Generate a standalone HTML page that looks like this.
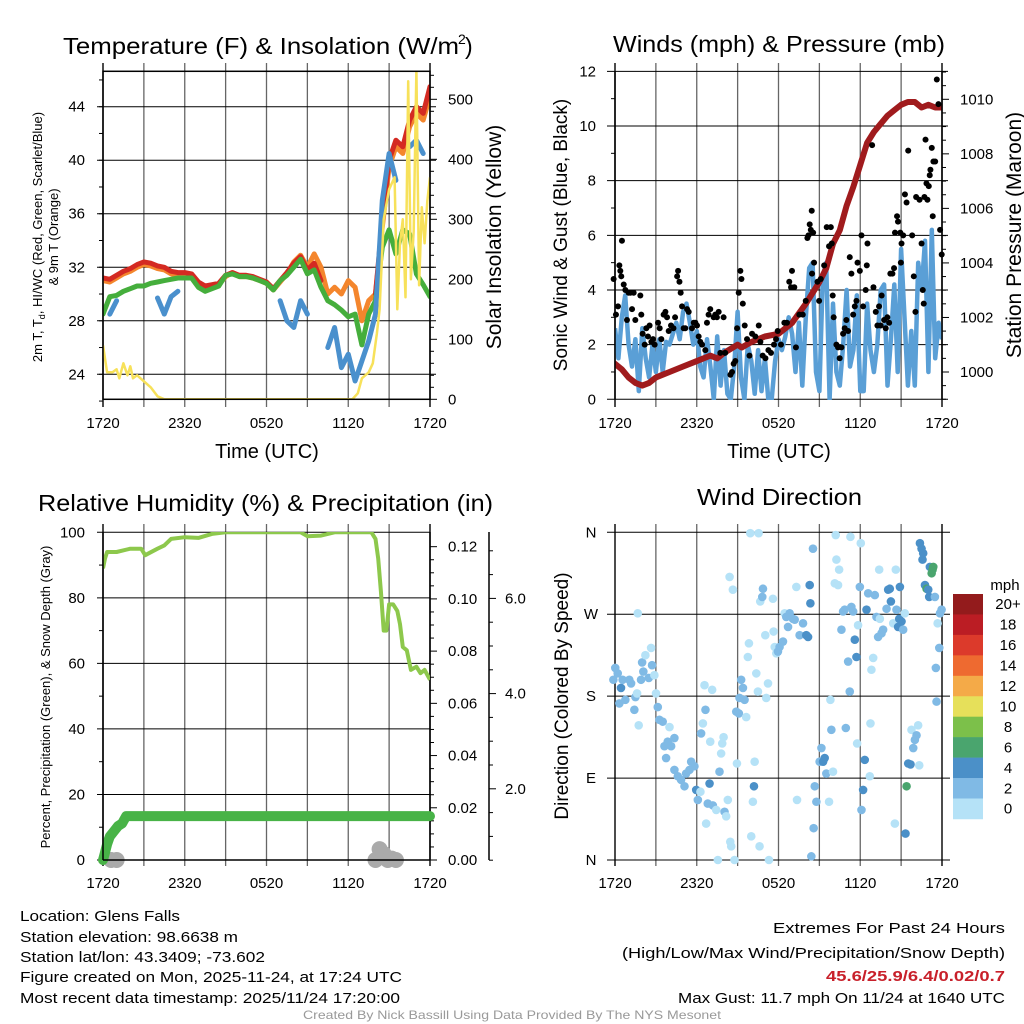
<!DOCTYPE html>
<html><head><meta charset="utf-8">
<style>
html,body{margin:0;padding:0;background:#fff;}
svg{display:block;font-family:"Liberation Sans",sans-serif;}
</style></head>
<body>
<svg id="fig" width="1024" height="1024" viewBox="0 0 1024 1024" xmlns="http://www.w3.org/2000/svg">
<rect x="0" y="0" width="1024" height="1024" fill="#fff"/>
<defs>
<clipPath id="c1"><rect x="103" y="71" width="327" height="329"/></clipPath>
<clipPath id="c2"><rect x="615" y="71" width="327" height="329"/></clipPath>
<clipPath id="c3"><rect x="103" y="532" width="327" height="328"/></clipPath>
</defs>
<g id="p1"></g>
<g id="p2"></g>
<g id="p3"></g>
<g id="p4"></g>

<text x="63" y="54" font-size="23" textLength="396" lengthAdjust="spacingAndGlyphs">Temperature (F) &amp; Insolation (W/m</text>
<text x="458" y="44" font-size="14">2</text>
<text x="465" y="54" font-size="23">)</text>
<text x="613" y="52" font-size="23" textLength="332" lengthAdjust="spacingAndGlyphs">Winds (mph) &amp; Pressure (mb)</text>
<text x="38" y="511" font-size="23" textLength="455" lengthAdjust="spacingAndGlyphs">Relative Humidity (%) &amp; Precipitation (in)</text>
<text x="697" y="505" font-size="23" textLength="165" lengthAdjust="spacingAndGlyphs">Wind Direction</text>

<g font-size="15">
<text x="20" y="921" textLength="160" lengthAdjust="spacingAndGlyphs">Location: Glens Falls</text>
<text x="20" y="942" textLength="218" lengthAdjust="spacingAndGlyphs">Station elevation: 98.6638 m</text>
<text x="20" y="962" textLength="245" lengthAdjust="spacingAndGlyphs">Station lat/lon: 43.3409; -73.602</text>
<text x="20" y="982" textLength="382" lengthAdjust="spacingAndGlyphs">Figure created on Mon, 2025-11-24, at 17:24 UTC</text>
<text x="20" y="1003" textLength="380" lengthAdjust="spacingAndGlyphs">Most recent data timestamp: 2025/11/24 17:20:00</text>
</g>
<g font-size="15" text-anchor="end">
<text x="1005" y="933" textLength="232" lengthAdjust="spacingAndGlyphs">Extremes For Past 24 Hours</text>
<text x="1005" y="958" textLength="383" lengthAdjust="spacingAndGlyphs">(High/Low/Max Wind/Precipitation/Snow Depth)</text>
<text x="1005" y="981" fill="#c8202a" font-weight="bold" textLength="179" lengthAdjust="spacingAndGlyphs">45.6/25.9/6.4/0.02/0.7</text>
<text x="1005" y="1003" textLength="327" lengthAdjust="spacingAndGlyphs">Max Gust: 11.7 mph On 11/24 at 1640 UTC</text>
</g>
<text x="512" y="1019" font-size="12" fill="#999" text-anchor="middle" textLength="418" lengthAdjust="spacingAndGlyphs">Created By Nick Bassill Using Data Provided By The NYS Mesonet</text>
</svg>
<script>
// ---------- DATA ----------
const xTickLabels = ["1720","2320","0520","1120","1720"];
const tempRed = [31.2,31.1,31.4,31.7,31.9,32.2,32.4,32.3,32.1,32.0,31.7,31.6,31.6,31.5,30.9,30.6,30.7,30.8,31.4,31.6,31.4,31.4,31.3,31.1,30.9,30.4,31.0,31.6,32.3,32.8,31.8,32.3,31.0,null,null,null,null,null,null,null,30.0,35.5,40.0,41.5,41.0,43.0,44.0,43.5,45.5];
const tempOrange = [31.0,30.9,31.2,31.5,31.7,32.0,32.2,32.1,31.9,31.8,31.5,31.4,31.5,31.4,30.8,30.5,30.6,30.7,31.3,31.6,31.3,31.3,31.2,31.0,30.8,30.3,30.9,31.5,32.4,32.9,32.0,33.0,32.0,30.0,30.5,30.0,31.0,30.5,28.0,29.5,30.0,35.0,39.5,41.0,40.5,42.5,43.5,43.0,44.8];
const tempGreen = [28.5,29.8,29.9,30.2,30.4,30.6,30.6,30.8,30.9,31.0,31.1,31.2,31.2,31.2,30.5,30.2,30.4,30.6,31.4,31.5,31.3,31.3,31.2,31.0,30.8,30.3,31.0,31.4,32.0,32.6,31.5,31.8,30.5,29.5,29.2,28.8,28.3,28.5,26.2,28.5,29.5,33.5,34.8,33.0,34.8,34.5,31.5,30.7,29.8];
const tempBlue = [null,28.5,29.5,null,null,null,null,null,29.7,28.5,29.8,30.2,null,null,29.3,null,null,null,28.6,null,null,null,null,null,null,null,29.5,28.0,27.5,29.5,28.5,null,null,26.0,27.5,24.5,25.5,23.5,25.0,26.5,28.5,37.0,40.5,38.5,null,41.0,41.5,40.5,null];
const solarHours = [0,0.3,0.7,1,1.2,1.5,1.8,2,2.2,2.5,3,3.5,4,4.5,18.3,18.7,19,19.5,19.8,20.1,20.3,20.6,21,21.4,21.6,21.8,22,22.2,22.4,22.6,22.8,23,23.2,23.4,23.6,23.8,24];
const solarValues = [90,45,45,50,35,60,40,55,35,40,30,20,5,0,0,10,35,45,60,110,150,300,350,370,150,260,300,170,530,200,280,550,190,320,260,330,370];
const windSpeed = [2.6,1.5,3.0,3.8,2.0,1.2,2.2,0.3,2.6,1.5,0.8,2.0,1.0,2.2,1.0,2.1,2.0,2.4,2.8,2.2,3.2,3.5,2.8,2.0,2.5,1.2,0.8,2.2,1.2,0.0,2.3,0.5,1.8,0.2,0.0,1.2,3.2,0.8,0.0,2.0,1.4,0.2,1.8,0.3,1.5,0.0,0.0,1.4,2.2,1.8,2.3,3.0,2.4,1.0,2.8,0.5,3.0,4.8,5.0,1.0,0.3,4.5,5.0,0.0,3.5,1.0,0.5,2.0,4.0,1.2,1.8,3.8,0.3,0.3,3.5,1.8,1.0,2.0,4.0,4.2,0.5,2.2,4.2,1.0,5.5,3.0,0.5,2.5,0.5,5.0,4.0,5.8,1.0,6.2,1.5,2.8,2.2];
const gustHours = [-0.1,0.07,0.22,0.32,0.39,0.46,0.51,0.64,0.76,0.88,1.0,1.13,1.25,1.37,1.49,1.86,1.93,2.03,2.18,2.3,2.42,2.54,2.67,2.79,2.91,3.16,3.28,3.4,3.57,3.7,3.82,3.94,4.11,4.29,4.41,4.56,4.63,4.73,4.82,4.92,5.04,5.16,5.29,5.41,5.65,5.78,5.9,6.02,6.14,6.26,6.39,6.63,6.75,6.87,6.99,7.24,7.36,7.48,7.61,7.73,7.97,8.09,8.47,8.59,8.71,8.83,8.96,9.08,9.2,9.28,9.38,9.52,9.69,9.87,10.06,10.3,10.55,10.67,10.84,11.04,11.26,11.45,11.67,11.82,11.94,12.18,12.43,12.62,12.79,12.92,12.99,13.16,13.28,13.53,13.78,14.0,14.12,14.2,14.29,14.37,14.44,14.54,14.61,14.46,14.86,14.98,15.1,15.35,15.54,15.71,15.84,15.91,15.98,16.05,16.25,16.37,16.49,16.62,16.74,16.86,16.98,17.11,17.23,17.35,17.48,17.6,17.72,17.8,17.97,18.09,18.21,18.4,18.48,18.53,18.87,18.97,19.14,19.26,19.38,19.5,19.57,19.75,19.87,19.99,20.12,20.21,20.36,20.48,20.55,20.7,20.77,20.94,20.98,21.03,21.15,21.28,21.4,21.52,21.81,21.93,22.05,22.1,22.35,22.5,22.59,22.66,22.71,22.79,22.86,22.93,23.03,23.1,23.15,23.25,23.32,23.37,23.5,23.62,23.74,23.86,23.98];
const gustValues = [4.4,3.1,3.4,4.9,4.7,4.5,5.8,4.2,4.0,2.9,3.9,3.9,3.3,3.9,2.9,3.8,3.1,2.4,2.0,2.6,2.3,2.7,2.1,2.2,2.0,2.8,2.6,2.2,3.1,3.2,3.0,2.5,2.7,2.6,3.0,4.5,4.7,4.3,3.9,3.4,2.6,2.6,3.3,3.2,2.6,2.8,2.8,2.7,2.3,2.1,2.0,1.8,2.8,3.1,3.3,3.0,3.1,3.0,3.2,1.7,3.0,1.7,0.9,1.0,1.3,1.4,2.6,3.9,4.7,4.4,3.5,2.7,2.2,1.6,2.4,2.3,2.7,2.1,1.6,1.5,1.8,1.7,2.0,2.2,2.5,2.0,2.8,2.8,4.3,4.1,4.7,4.1,1.9,3.1,3.1,3.6,5.9,6.0,6.4,6.2,6.9,6.1,5.0,4.6,4.3,3.6,4.4,4.9,6.3,5.6,6.3,5.7,3.8,3.0,2.0,1.9,1.5,1.9,2.4,2.6,2.9,2.5,5.2,4.6,3.1,3.4,3.6,5.0,4.7,6.0,3.4,4.0,4.9,5.7,9.3,4.1,3.2,2.7,3.4,2.7,3.8,2.9,2.6,3.0,2.8,4.6,4.6,4.8,6.1,6.7,6.5,6.1,5.0,5.7,6.0,7.5,7.2,9.1,6.0,4.5,3.2,7.4,7.3,5.7,4.0,3.5,7.4,9.5,7.9,7.3,7.8,8.2,8.4,9.2,6.7,8.7,8.7,11.7,10.8,6.2,5.3,4.6,4.9,6.1];
const pressHours = [0,0.5,1,1.5,2,2.5,3,3.5,4,5,6,7,7.5,8,9,9.3,10,11,12,13,14,15,15.5,16,16.5,17,17.5,18,18.5,19,19.5,20,20.5,21,21.5,22,22.5,23,23.5,24];
const pressValues = [1000.3,1000.1,999.8,999.6,999.5,999.6,999.8,999.9,1000.0,1000.2,1000.4,1000.6,1000.5,1000.7,1001.0,1000.9,1001.1,1001.3,1001.4,1001.8,1002.5,1003.3,1003.8,1004.7,1005.2,1006.1,1006.8,1007.6,1008.4,1008.8,1009.1,1009.4,1009.6,1009.8,1009.9,1009.9,1009.7,1009.8,1009.7,1009.7];
const rhHours = [0,0.15,0.3,1,2,2.8,3.1,4,4.5,5,6,7,8,9,10,12,14,14.5,15,16,17,18,19,19.7,20,20.2,20.4,20.6,20.8,21,21.3,21.6,21.8,22,22.3,22.6,23,23.3,23.6,24];
const rhValues = [89,92,94,94,95,95,93,95,96,98,98.5,98.3,99.5,100,100,100,100,100,98.8,99,100,100,100,100,98,92,82,70,70,78,78,76,72,65,64,58,59,57,58,55];
const precipHours = [0,0.1,0.3,0.5,0.8,1.1,1.4,1.7,24];
const precipValues = [0,0.002,0.006,0.009,0.011,0.013,0.014,0.0168,0.0168];
const snowHours = [0.6,1.0,20.0,20.3,20.6,20.9,21.2,21.5];
const snowValues = [0.3,0.4,0.6,0.9,0.8,0.6,0.7,0.5];
// wind direction scatter (hours since 1720, degrees, mph)
const dirHours = [-0.12,0.02,0.2,0.32,0.44,0.56,0.76,1.05,1.18,1.42,1.5,1.62,1.67,1.74,1.91,1.99,2.08,2.23,2.48,2.65,2.72,2.89,3.01,3.14,3.26,3.5,3.63,3.75,3.87,4.0,4.12,4.36,4.36,4.61,4.85,5.1,5.22,5.47,5.59,5.83,5.96,6.08,6.27,6.32,6.45,6.57,6.64,6.69,6.81,6.94,6.99,7.13,7.18,7.43,7.55,7.67,7.79,7.87,7.97,8.04,8.16,8.28,8.41,8.46,8.53,8.65,8.77,8.9,8.95,9.09,9.14,9.26,9.39,9.51,9.63,9.83,9.75,9.93,10.0,10.12,10.2,10.25,10.37,10.49,10.54,10.61,10.66,10.81,10.86,11.03,11.1,11.23,11.3,11.59,11.64,11.72,11.84,11.96,12.08,12.33,12.45,12.57,12.7,12.82,13.06,13.19,13.31,13.36,13.55,13.8,14.04,14.17,14.29,14.34,14.41,14.53,14.58,14.66,14.78,15.02,15.15,15.27,15.39,15.51,15.71,15.81,15.88,16.0,16.13,16.2,16.25,16.37,16.45,16.62,16.74,16.86,16.94,17.11,17.23,17.28,17.35,17.48,17.6,17.72,17.77,17.84,17.97,18.04,18.09,18.21,18.33,18.46,18.58,18.7,18.75,18.82,18.95,19.07,19.19,19.31,19.39,19.44,19.56,19.68,19.93,20.05,20.17,20.25,20.42,20.54,20.61,20.66,20.78,20.86,20.91,21.03,21.15,21.27,21.32,21.4,21.52,21.69,21.76,21.89,22.01,22.13,22.25,22.33,22.38,22.5,22.57,22.62,22.75,22.87,22.99,23.06,23.11,23.24,23.31,23.36,23.48,23.55,23.6,23.68,23.8,23.85,23.97];
const dirValues = [198,211,205,172,189,198,176,198,194,165,179,183,271,148,198,217,207,225,200,233,214,203,183,168,154,152,125,112,130,146,125,134,99,92,88,81,95,99,108,103,77,66,75,139,150,192,165,40,62,84,130,187,60,55,0,97,117,128,135,53,48,66,311,20,15,297,0,163,106,161,178,198,189,176,157,238,223,359,26,64,81,108,205,185,359,15,284,289,298,247,178,194,0,287,251,234,227,229,234,240,271,267,256,271,265,264,300,66,247,260,247,245,302,282,4,342,35,81,64,108,123,108,112,95,64,176,143,97,304,357,330,302,319,253,273,275,145,218,185,355,278,273,242,223,128,258,300,348,55,77,110,275,293,92,150,209,222,291,267,245,319,265,249,253,276,297,298,284,260,40,319,275,256,265,300,262,253,271,29,81,106,105,143,123,132,137,148,104,348,342,330,337,302,298,297,289,322,315,319,322,289,211,174,260,233,271,275];
const dirSpeeds = [3,3,3,3,5,3,3,3,3,3,3,1,1,1,3,3,3,1,3,1,3,1,1,3,3,3,3,3,3,1,3,3,3,3,3,3,3,3,3,3,5,3,1,3,1,1,3,1,3,5,1,1,3,1,1,3,1,1,1,3,1,1,1,1,1,1,1,3,1,3,3,3,3,3,1,1,1,1,1,1,5,1,1,1,1,1,1,3,3,1,1,1,1,1,1,1,1,3,3,3,1,3,3,3,3,3,1,1,3,3,5,5,5,5,3,3,3,3,3,3,3,5,5,3,1,1,3,1,1,1,1,1,1,3,3,3,3,3,3,1,3,3,5,5,1,1,3,1,3,5,5,5,3,1,1,1,1,3,3,3,1,1,3,3,3,5,5,5,1,1,1,3,5,5,5,5,3,1,5,7,5,5,1,3,3,3,1,1,5,5,5,5,5,7,5,5,5,7,7,7,3,3,3,1,3,3,3];
const speedBinLabels = ["0","2","4","6","8","10","12","14","16","18","20+"];
const speedBinColors = ["#b5e2f7","#80bae5","#4b90c8","#4aa56e","#7cc04a","#e6e05a","#f4aa48","#ee6a30","#dc3a2b","#bb1d24","#931b1c"];

// ---------- HELPERS ----------
const NS = "http://www.w3.org/2000/svg";
function mk(parent, tag, attrs){ const e=document.createElementNS(NS,tag); for(const k in attrs) e.setAttribute(k,attrs[k]); parent.appendChild(e); return e; }
function txt(parent, x, y, s, size, anchor, extra){ const e=mk(parent,'text',Object.assign({x:x,y:y,'font-size':size,'text-anchor':anchor||'start'},extra||{})); e.textContent=s; return e; }
const PX0=[103,615], PX1=[430,942];
function X(h, p){ return PX0[p]+h/24*(PX1[p]-PX0[p]); }
function pathFrom(hs, vs, xf, yf){ let d="", pen=false; for(let i=0;i<vs.length;i++){ if(vs[i]==null){pen=false;continue;} d+=(pen?"L":"M")+xf(hs[i]).toFixed(1)+" "+yf(vs[i]).toFixed(1)+" "; pen=true;} return d; }
function halfHours(n){ const a=[]; for(let i=0;i<n;i++) a.push(i*0.5); return a; }
function quarterHours(n){ const a=[]; for(let i=0;i<n;i++) a.push(i*0.25); return a; }
function vgrid(g, p, top, bot){ for(let i=0;i<=8;i++){ const x=X(i*3,p); mk(g,'line',{x1:x,y1:top,x2:x,y2:bot,stroke:(i==0||i==8)?'#000':'#666','stroke-width':(i==0||i==8)?1.4:1.3}); } }
function xlabels(g,p,y){ xTickLabels.forEach((s,i)=>{ const t=txt(g,X(i*6,p),y,s,15,'middle');   }); }

// ---------- PANEL 1 ----------
(function(){
 const g=document.getElementById('p1');
 const yT=T=>374.3-(T-24)*13.38, yS=W=>399.3-W*0.6;
 vgrid(g,0,63,407);
 for(let T=24;T<=44;T+=4){ mk(g,'line',{x1:97,y1:yT(T),x2:436,y2:yT(T),stroke:'#000','stroke-width':1}); const t=txt(g,85,yT(T)+5,String(T),15,'end');   }
 for(let T=22;T<=46;T+=2){ mk(g,'line',{x1:99,y1:yT(T),x2:103,y2:yT(T),stroke:'#000'}); }
 for(let W=0;W<=540;W+=20){ mk(g,'line',{x1:430,y1:yS(W),x2:W%100==0?437:434,y2:yS(W),stroke:'#000'}); }
 for(let W=0;W<=500;W+=100){ const t=txt(g,448,yS(W)+5,String(W),15,'start');   }
 const cg=mk(g,'g',{'clip-path':'url(#c1)'});
 const hh=halfHours(49);
 const series=[[tempOrange,'#f4862d','orange-9m-temp-line'],[tempRed,'#d42a22','red-2m-temp-line'],[tempGreen,'#45ae3c','green-dewpoint-line'],[tempBlue,'#4a90cd','blue-windchill-line']];
 series.forEach(s=>{ const p=mk(cg,'path',{d:pathFrom(hh,s[0],h=>X(h,0),yT),fill:'none',stroke:s[1],'stroke-width':5,'stroke-linejoin':'round','stroke-linecap':'round'});   });
 const sp=mk(cg,'path',{d:pathFrom(solarHours,solarValues,h=>X(h,0),yS),fill:'none',stroke:'#f7e15a','stroke-width':2.5,'stroke-linejoin':'round'});
  
 mk(g,'rect',{x:103,y:71.3,width:327,height:328,fill:'none',stroke:'#000','stroke-width':1.5});
 xlabels(g,0,428);
 const a=txt(g,267,458,'Time (UTC)',20,'middle');  
 const l1=txt(g,0,0,'',13,'middle',{transform:'translate(42,237) rotate(-90)'}); l1.innerHTML='2m T, T<tspan font-size="9" dy="3">d</tspan><tspan dy="-3">, HI/WC (Red, Green, Scarlet/Blue)</tspan>';
  
 const l2=txt(g,0,0,'& 9m T (Orange)',13,'middle',{transform:'translate(58,237) rotate(-90)'});  
 const r=txt(g,0,0,'Solar Insolation (Yellow)',21,'middle',{transform:'translate(501,237) rotate(-90)'});  
})();

// ---------- PANEL 2 ----------
(function(){
 const g=document.getElementById('p2');
 const yW=v=>399.3-v*27.33, yP=p=>372-(p-1000)*27.27;
 vgrid(g,1,63,407);
 for(let v=0;v<=12;v+=2){ mk(g,'line',{x1:607,y1:yW(v),x2:948,y2:yW(v),stroke:'#000'}); const t=txt(g,596,yW(v)+5,String(v),15,'end');   }
 for(let v=1;v<12;v+=2) mk(g,'line',{x1:611,y1:yW(v),x2:615,y2:yW(v),stroke:'#000'});
 for(let p=999;p<=1011;p+=0.5) mk(g,'line',{x1:942,y1:yP(p),x2:(p%2==0)?949:946,y2:yP(p),stroke:'#000'});
 for(let p=1000;p<=1010;p+=2){ const t=txt(g,960,yP(p)+5,String(p),15,'start');   }
 const cg=mk(g,'g',{'clip-path':'url(#c2)'});
 const wl=mk(cg,'path',{d:pathFrom(quarterHours(windSpeed.length),windSpeed,h=>X(h,1),yW),fill:'none',stroke:'#5a9fd6','stroke-width':4.5,'stroke-linejoin':'round'});
  
 const gg=mk(g,'g',{});  
 gustHours.forEach((h,i)=>{ const c=mk(gg,'circle',{cx:X(h,1),cy:yW(gustValues[i]),r:3,fill:'#000'});   });
 const pl=mk(cg,'path',{d:pathFrom(pressHours,pressValues,h=>X(h,1),yP),fill:'none',stroke:'#a01b1d','stroke-width':6,'stroke-linejoin':'round','stroke-linecap':'round'});
  
 mk(g,'line',{x1:615,y1:71.3,x2:615,y2:399.3,stroke:'#000','stroke-width':1.5});
 mk(g,'line',{x1:942,y1:71.3,x2:942,y2:399.3,stroke:'#000','stroke-width':1.5});
 xlabels(g,1,428);
 const a=txt(g,779,458,'Time (UTC)',20,'middle');  
 const l=txt(g,0,0,'Sonic Wind & Gust (Blue, Black)',19,'middle',{transform:'translate(567,235) rotate(-90)'});  
 const r=txt(g,0,0,'Station Pressure (Maroon)',21,'middle',{transform:'translate(1021,235) rotate(-90)'});  
})();

// ---------- PANEL 3 ----------
(function(){
 const g=document.getElementById('p3');
 const yR=v=>860-v*3.277, yPr=v=>860-v*2611, ySn=v=>884-v*47.6;
 vgrid(g,0,524,866);
 for(let v=0;v<=100;v+=20){ mk(g,'line',{x1:97,y1:yR(v),x2:430,y2:yR(v),stroke:'#000'}); const t=txt(g,85,yR(v)+5,String(v),15,'end');   }
 for(let v=10;v<100;v+=20) mk(g,'line',{x1:99,y1:yR(v),x2:103,y2:yR(v),stroke:'#000'});
 mk(g,'line',{x1:430,y1:532,x2:430,y2:860,stroke:'#000','stroke-width':1.5});
 for(let i=0;i<=24;i++){ const v=i*0.005; mk(g,'line',{x1:430,y1:yPr(v),x2:i%4==0?437:434,y2:yPr(v),stroke:'#000'}); }
 for(let i=0;i<=6;i++){ const v=i*0.02; const t=txt(g,448,yPr(v)+5,v.toFixed(2),15,'start');   }
 mk(g,'line',{x1:489,y1:532,x2:489,y2:860,stroke:'#000','stroke-width':1.5});
 for(let v=0.5;v<=7;v+=0.5){ const y=ySn(v); if(y<532) continue; mk(g,'line',{x1:489,y1:y,x2:v%2==0?496:493,y2:y,stroke:'#000'}); }
 for(let v=2;v<=6;v+=2){ const t=txt(g,505,ySn(v)+5,v.toFixed(1),15,'start');   }
 const cg=mk(g,'g',{'clip-path':'url(#c3)'});
 const sg=mk(g,'g',{});  
 snowHours.forEach((h,i)=>{ const c=mk(sg,'circle',{cx:X(h,0),cy:Math.min(860,ySn(snowValues[i])+8),r:8,fill:'#aaa'});   });
 const pr=mk(g,'path',{d:pathFrom(precipHours,precipValues,h=>X(h,0),yPr),fill:'none',stroke:'#48b347','stroke-width':10,'stroke-linejoin':'round','stroke-linecap':'round'});
  
 const rh=mk(cg,'path',{d:pathFrom(rhHours,rhValues,h=>X(h,0),yR),fill:'none',stroke:'#8dc84c','stroke-width':4,'stroke-linejoin':'round'});
  
 mk(g,'line',{x1:103,y1:532,x2:103,y2:860,stroke:'#000','stroke-width':1.5});
 mk(g,'line',{x1:103,y1:860,x2:430,y2:860,stroke:'#000','stroke-width':1.5});
 xlabels(g,0,888);
 const l=txt(g,0,0,'Percent, Precipitation (Green), & Snow Depth (Gray)',13,'middle',{transform:'translate(50,697) rotate(-90)'});  
})();

// ---------- PANEL 4 ----------
(function(){
 const g=document.getElementById('p4');
 const yD=d=>860-d/360*327.7;
 vgrid(g,1,524,866);
 const dl=['N','E','S','W','N'];
 for(let i=0;i<=4;i++){ const y=yD(i*90); mk(g,'line',{x1:607,y1:y,x2:950,y2:y,stroke:'#000'}); const t=txt(g,591,y+5,dl[i],15,'middle');   }
 const sg=mk(g,'g',{});  
 dirHours.forEach((h,i)=>{ const sp=dirSpeeds[i]||0; const bin=Math.min(10,Math.floor(sp/2)); const c=mk(sg,'circle',{cx:X(h,1),cy:yD(dirValues[i]),r:4.3,fill:speedBinColors[bin]});   });
 xlabels(g,1,888);
 const l=txt(g,0,0,'Direction (Colored By Speed)',19,'middle',{transform:'translate(568,696) rotate(-90)'});  
 const lg=mk(g,'g',{});  
 const m=txt(lg,1005,590,'mph',15,'middle');  
 const top=594, bh=20.45;
 for(let i=0;i<11;i++){ const k=10-i; const r=mk(lg,'rect',{x:953,y:top+i*bh,width:30,height:bh+0.3,fill:speedBinColors[k]});  
  const t=txt(lg,1008,top+i*bh+bh/2+5,speedBinLabels[k],15,'middle');   }
})();
</script>
</body></html>
